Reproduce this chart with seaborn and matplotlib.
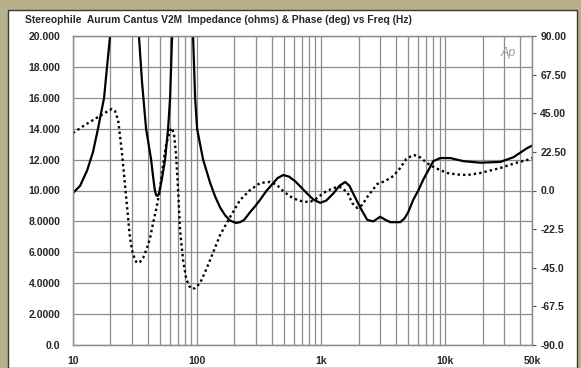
import matplotlib
matplotlib.use("Agg")
import matplotlib.pyplot as plt
import matplotlib.ticker as mticker
from matplotlib.patches import Rectangle
import pandas as pd
import seaborn as sns

# impedance (ohms) vs freq (Hz); values > 20 are off-scale peaks
imp_freq = [10, 11.4, 13.0, 14.5, 15.9, 17.8, 18.8, 19.9, 26.2, 34.0, 36.0, 38.8, 42.6,
            44.2, 45.5, 46.7, 48.0, 49.4, 52.2, 55.2, 58.4, 60.6, 62.9, 75.6, 92.8, 96.4, 100,
            111.8, 127.3, 140, 153.3, 168, 184.6, 206.3, 222, 239.3, 267.6, 295, 322.2, 360,
            402.6, 445, 493.8, 550, 617.1, 690, 771.3, 870, 981.5, 1100, 1250, 1400, 1562,
            1690, 1812, 2063, 2350, 2627, 2991, 3300, 3602, 4336, 4700, 5030, 5520, 6058,
            6647, 7295, 8005, 9115, 10973, 13974, 19154, 27766, 35355, 45843, 50000]
imp_ohms = [9.84, 10.3, 11.3, 12.5, 14.0, 16.0, 18.0, 20.0, 40.0, 20.0, 17.0, 14.0, 12.0,
            10.9, 10.1, 9.7, 9.65, 9.8, 10.8, 12.0, 14.0, 16.0, 20.0, 40.0, 20.0, 16.0, 14.0,
            12.0, 10.5, 9.6, 8.9, 8.4, 8.05, 7.9, 7.95, 8.1, 8.6, 9.0, 9.4, 9.95,
            10.4, 10.8, 11.0, 10.9, 10.6, 10.2, 9.8, 9.4, 9.2, 9.35, 9.8, 10.3, 10.55,
            10.3, 9.8, 8.9, 8.1, 8.0, 8.3, 8.1, 7.95, 7.95, 8.2, 8.6, 9.4, 10.0,
            10.7, 11.3, 11.9, 12.1, 12.1, 11.9, 11.8, 11.85, 12.15, 12.75, 12.9]

# phase (deg) vs freq (Hz)
phase_freq = [10, 12.5, 15.0, 17.5, 19.2, 20.6, 21.8, 23.1, 23.9, 24.8, 25.8, 26.8, 27.8,
              28.8, 29.9, 31.6, 32.8, 34.7, 36.7, 39.5, 41.8, 44.2, 47.6, 50.3, 53.2, 56.2,
              60.6, 62.9, 65.3, 67.7, 70.3, 72.9, 77.1, 81.5, 86.2, 91.1, 96.4, 105.7, 116.0,
              127.3, 153.3, 184.6, 222.3, 267.6, 322.2, 387.9, 440, 493.8, 560, 640.5, 720,
              815.4, 920, 1038, 1250, 1423, 1621, 1778, 1952, 2141, 2350, 2829, 3281, 3808,
              4336, 4848, 5520, 6058, 6647, 7400, 8307, 10378, 12500, 15046, 19154, 27766,
              36690, 45843, 50000]
phase_deg = [33.5, 38.2, 41.7, 44.6, 46.3, 47.5, 46.3, 41.0, 32.0, 21.8, 9.0, -3.8, -16.0,
             -27.7, -34.7, -40.5, -42.2, -41.6, -39.3, -33.5, -27.7, -19.0, -8.4, 1.5, 14.9, 26.5,
             35.2, 36.4, 32.3, 20.7, 0.3, -23.0, -40.5, -51.0, -55.6, -57.4, -56.8, -53.9, -47.5,
             -40.5, -25.9, -15.4, -5.5, 0.3, 4.4, 5.0, 3.2, -0.3, -3.4, -5.5, -6.5,
             -6.7, -4.6, -1.5, 1.5, 2.0, -0.9, -7.3, -10.2, -8.4, -3.8, 3.8, 5.5, 8.4,
             13.1, 18.4, 20.7, 20.1, 17.8, 15.2, 13.1, 10.2, 9.3, 9.0, 10.2, 13.1,
             16.0, 17.8, 18.9]

x_ticks = [10, 100, 1000, 10000, 50000]
x_labels = ["10", "100", "1k", "10k", "50k"]
left_ticks = [0, 2, 4, 6, 8, 10, 12, 14, 16, 18, 20]
left_labels = ["0.0", "2.0000", "4.0000", "6.0000", "8.0000", "10.000", "12.000",
               "14.000", "16.000", "18.000", "20.000"]
right_ticks = [-90, -67.5, -45, -22.5, 0, 22.5, 45, 67.5, 90]
right_labels = ["-90.0", "-67.5", "-45.0", "-22.5", "0.0", "22.50", "45.00", "67.50", "90.00"]

title = "Stereophile  Aurum Cantus V2M  Impedance (ohms) & Phase (deg) vs Freq (Hz)"

sns.set_style("white")
plt.rcParams["font.family"] = ["Liberation Sans", "DejaVu Sans"]

W, H = 581, 368
fig = plt.figure(figsize=(W / 100, H / 100), dpi=100, facecolor="#b7b088")
fig.patches.append(Rectangle((8 / W, 0), 569 / W, 358 / H, transform=fig.transFigure,
                             facecolor="white", edgecolor="#3a3a3a", lw=1, zorder=-10))

ax = fig.add_axes([73 / W, 1 - 345 / H, (532 - 73) / W, (345 - 36) / H])
ax.set_facecolor("white")
ax2 = ax.twinx()

imp = pd.DataFrame({"freq": imp_freq, "ohms": imp_ohms})
ph = pd.DataFrame({"freq": phase_freq, "deg": phase_deg})

sns.lineplot(data=imp, x="freq", y="ohms", ax=ax, color="black", lw=1.6)
sns.lineplot(data=ph, x="freq", y="deg", ax=ax2, color="black", lw=1.7,
             linestyle=(0, (1, 1.3)))

ax.set_xscale("log")
ax.set_xlim(10, 50000)
ax.set_ylim(0, 20)
ax2.set_ylim(-90, 90)

ax.xaxis.set_major_locator(mticker.FixedLocator(x_ticks))
ax.xaxis.set_major_formatter(mticker.FixedFormatter(x_labels))
ax.xaxis.set_minor_locator(mticker.LogLocator(base=10, subs=range(2, 10), numticks=20))
ax.xaxis.set_minor_formatter(mticker.NullFormatter())
ax.set_yticks(left_ticks)
ax.set_yticklabels(left_labels)
ax2.set_yticks(right_ticks)
ax2.set_yticklabels(right_labels)

grid_c = "#8c8c8c"
ax.grid(which="both", axis="x", color=grid_c, lw=0.9)
ax.grid(which="major", axis="y", color=grid_c, lw=0.9)
ax.set_axisbelow(True)

ax.set_xlabel("")
ax.set_ylabel("")
ax2.set_ylabel("")

for a in (ax, ax2):
    for s in a.spines.values():
        s.set_color(grid_c)
        s.set_linewidth(0.9)

ax.tick_params(axis="x", which="both", length=0, pad=8)
ax.tick_params(axis="y", length=0, pad=9)
ax2.tick_params(axis="y", length=3, width=0.8, color="#555555", direction="out", pad=3)
for t in ax.get_xticklabels() + ax.get_yticklabels() + ax2.get_yticklabels():
    t.set_fontsize(7.5)
    t.set_fontweight("bold")

fig.text(25 / W, 1 - 20 / H, title, fontsize=7.4, fontweight="bold", va="center", ha="left")
ax.text(0.965, 0.965, "Ap", transform=ax.transAxes, fontsize=9, style="italic",
        color="#9a9a9a", ha="right", va="top")

fig.savefig("out.png", dpi=100, facecolor=fig.get_facecolor())
